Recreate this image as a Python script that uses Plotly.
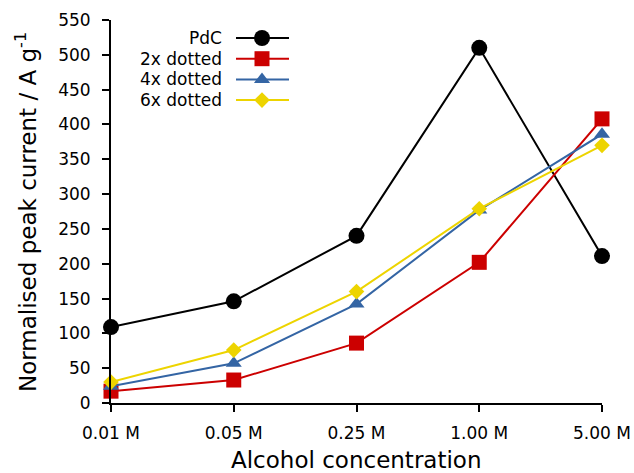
import plotly.graph_objects as go

categories = ["0.01 M", "0.05 M", "0.25 M", "1.00 M", "5.00 M"]
pdc = [109, 146, 240, 510, 211]
dotted2 = [17, 33, 86, 202, 408]
dotted4 = [24, 57, 142, 277, 386]
dotted6 = [30, 76, 160, 279, 370]
y_ticks = list(range(0, 551, 50))

W, H = 634, 473
FONT = "DejaVu Sans"

series = [
    ("PdC", pdc, "#000000", "circle", 16),
    ("2x dotted", dotted2, "#cc0000", "square", 15),
    ("4x dotted", dotted4, "#3465a4", "triangle-up", 14),
    ("6x dotted", dotted6, "#edd400", "diamond", 12),
]

fig = go.Figure()
xs = list(range(len(categories)))
for name, vals, color, sym, size in series:
    fig.add_trace(go.Scatter(
        x=xs, y=vals, mode="lines+markers", name=name,
        line=dict(color=color, width=2),
        marker=dict(symbol=sym, size=size, color=color, opacity=1, line=dict(width=0)),
        cliponaxis=False, showlegend=False,
    ))

# manual legend (text right-aligned, glyph on the right)
leg_x0, leg_x1, leg_xm = 236, 289, 262
leg_text_x = 224
leg_y0, leg_dy = 38, 20.7
annotations = []
for i, (name, vals, color, sym, size) in enumerate(series):
    yy = leg_y0 + i * leg_dy
    fig.add_trace(go.Scatter(
        x=[leg_x0, leg_x1], y=[yy, yy], mode="lines",
        line=dict(color=color, width=2),
        xaxis="x2", yaxis="y2", showlegend=False, hoverinfo="skip", cliponaxis=False,
    ))
    fig.add_trace(go.Scatter(
        x=[leg_xm], y=[yy], mode="markers",
        marker=dict(symbol=sym, size=size, color=color, opacity=1, line=dict(width=0)),
        xaxis="x2", yaxis="y2", showlegend=False, hoverinfo="skip", cliponaxis=False,
    ))
    annotations.append(dict(
        x=leg_text_x / W, y=1 - yy / H, xref="paper", yref="paper",
        text=name, showarrow=False, xanchor="right", yanchor="middle",
        font=dict(family=FONT, size=17, color="black"),
    ))

# axis titles
annotations.append(dict(
    x=356 / W, y=1 - 460 / H, xref="paper", yref="paper",
    text="Alcohol concentration", showarrow=False,
    xanchor="center", yanchor="middle",
    font=dict(family=FONT, size=23, color="black"),
))
annotations.append(dict(
    x=26 / W, y=1 - 212 / H, xref="paper", yref="paper",
    text="Normalised peak current / A g<sup>-1</sup>", showarrow=False,
    textangle=-90, xanchor="center", yanchor="middle",
    font=dict(family=FONT, size=23, color="black"),
))

fig.update_layout(
    width=W, height=H,
    margin=dict(l=0, r=0, t=0, b=0),
    paper_bgcolor="white", plot_bgcolor="rgba(0,0,0,0)",
    font=dict(family=FONT, size=17, color="black"),
    annotations=annotations,
    xaxis=dict(
        domain=[111 / W, 602 / W], range=[0, 4],
        tickmode="array", tickvals=xs, ticktext=categories,
        showline=True, linecolor="black", linewidth=2,
        ticks="outside", ticklen=7, tickwidth=2, tickcolor="black",
        showgrid=False, zeroline=False, ticklabelstandoff=7,
        automargin=False, anchor="y",
    ),
    yaxis=dict(
        domain=[1 - 403 / H, 1 - 20 / H], range=[0, 550],
        tickmode="array", tickvals=y_ticks,
        showline=True, linecolor="black", linewidth=2,
        ticks="outside", ticklen=7, tickwidth=2, tickcolor="black",
        showgrid=False, zeroline=False, ticklabelstandoff=8,
        automargin=False, anchor="x",
    ),
    xaxis2=dict(domain=[0, 1], range=[0, W], visible=False, anchor="y2", fixedrange=True),
    yaxis2=dict(domain=[0, 1], range=[H, 0], visible=False, anchor="x2", fixedrange=True),
)

fig.write_html("out.html")
